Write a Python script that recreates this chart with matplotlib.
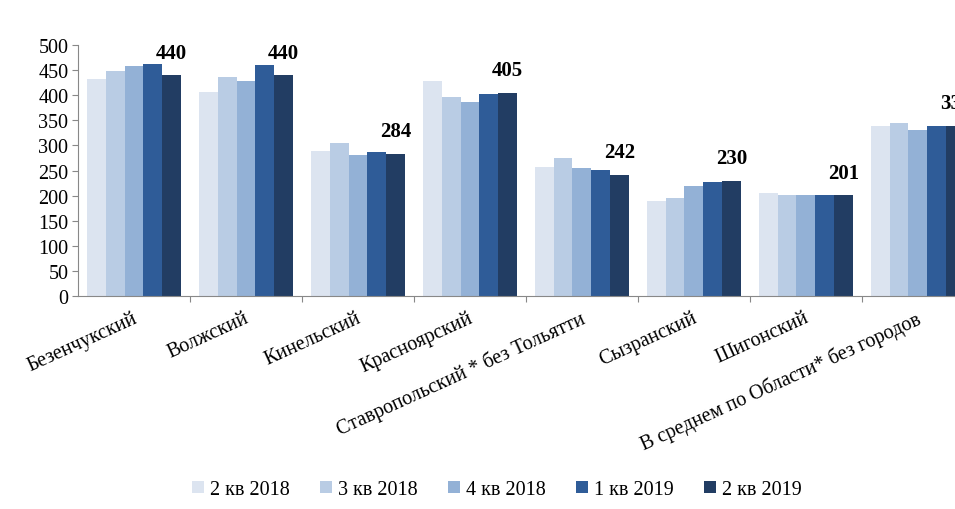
import numpy as np
import matplotlib.pyplot as plt

# ============================================================
# Data
# ============================================================

categories = [
    "Безенчукский",
    "Волжский",
    "Кинельский",
    "Красноярский",
    "Ставропольский * без Тольятти",
    "Сызранский",
    "Шигонский",
    "В среднем по Области* без городов",
]

series_names = ["2 кв 2018", "3 кв 2018", "4 кв 2018", "1 кв 2019", "2 кв 2019"]

q2_2018 = [433, 406, 289, 429, 258, 189, 205, 338]
q3_2018 = [449, 437, 304, 397, 276, 195, 202, 344]
q4_2018 = [459, 429, 281, 386, 255, 220, 202, 330]
q1_2019 = [463, 460, 287, 402, 252, 228, 202, 338]
q2_2019 = [440, 440, 284, 405, 242, 230, 201, 339]

colors = ["#DCE4F0", "#B9CCE4", "#93B1D6", "#2F5C98", "#223D63"]

# ============================================================
# Figure
# ============================================================

plt.rcParams["font.family"] = ["Liberation Serif", "DejaVu Serif"]

fig = plt.figure(figsize=(9.55, 5.10), dpi=100)
ax = fig.add_axes([0.0817, 0.4176, 0.938, 0.492])

all_series = [q2_2018, q3_2018, q4_2018, q1_2019, q2_2019]
x = np.arange(len(categories))
n = len(all_series)
width = 0.84 / n

for i, (vals, name, col) in enumerate(zip(all_series, series_names, colors)):
    pos = x - 0.42 + width * (i + 0.5)
    ax.bar(pos, vals, width=width, color=col, label=name, linewidth=0)

# labels over last series
last_pos = x - 0.42 + width * (n - 0.5)
for xp, v in zip(last_pos, q2_2019):
    ax.annotate(
        f"{v}",
        (xp, v),
        xytext=(0, 9),
        textcoords="offset points",
        ha="center",
        va="bottom",
        fontsize=15,
        fontweight="bold",
        annotation_clip=False,
    )

ax.set_xlim(-0.5, len(categories) - 0.5)
ax.set_ylim(0, 500)
ax.set_yticks(np.arange(0, 501, 50))
ax.tick_params(axis="y", labelsize=14.5, length=4, color="#888888", pad=3)

# group boundary ticks on x axis
ax.set_xticks(np.arange(0.5, len(categories) - 0.5, 1.0))
ax.set_xticklabels([])
ax.tick_params(axis="x", length=4, color="#888888")

for xp, lab in zip(x, categories):
    ax.text(
        xp - 0.02, -24, lab,
        rotation=24.5,
        rotation_mode="anchor",
        ha="right",
        va="top",
        fontsize=14.5,
        transform=ax.transData,
    )

for side in ["top", "right"]:
    ax.spines[side].set_visible(False)
ax.spines["left"].set_color("#888888")
ax.spines["bottom"].set_color("#888888")

fig.legend(
    loc="center",
    bbox_to_anchor=(0.52, 0.038),
    ncol=5,
    frameon=False,
    fontsize=14.5,
    handlelength=0.6,
    handleheight=0.6,
    handletextpad=0.3,
    columnspacing=1.5,
)

plt.savefig("out.png", dpi=100)
